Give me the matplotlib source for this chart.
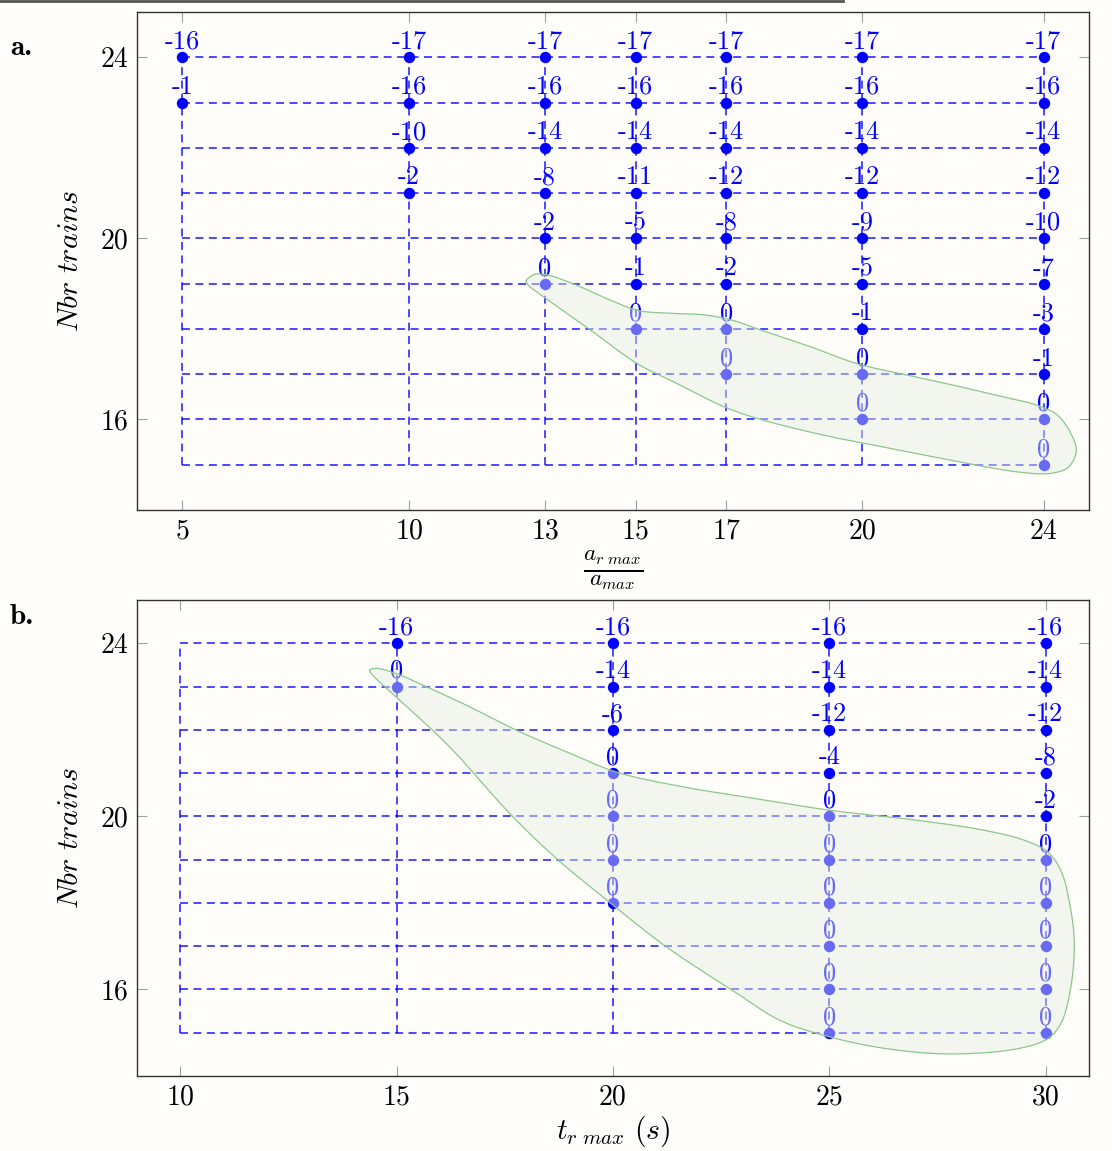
import numpy as np
import matplotlib
matplotlib.use("Agg")
import matplotlib.pyplot as plt
from matplotlib.lines import Line2D

plt.rcParams['font.family'] = ['cmr10', 'DejaVu Serif']
plt.rcParams['mathtext.fontset'] = 'cm'
plt.rcParams['axes.unicode_minus'] = False

# ---------------- data: panel a ----------------
a_xticks = [5, 10, 13, 15, 17, 20, 24]
a_yticks = [16, 20, 24]
a_levels = [15, 16, 17, 18, 19, 20, 21, 22, 23, 24]
a_ratio = [5, 5,
           10, 10, 10, 10,
           13, 13, 13, 13, 13, 13,
           15, 15, 15, 15, 15, 15, 15,
           17, 17, 17, 17, 17, 17, 17, 17,
           20, 20, 20, 20, 20, 20, 20, 20, 20,
           24, 24, 24, 24, 24, 24, 24, 24, 24, 24]
a_trains = [24, 23,
            24, 23, 22, 21,
            24, 23, 22, 21, 20, 19,
            24, 23, 22, 21, 20, 19, 18,
            24, 23, 22, 21, 20, 19, 18, 17,
            24, 23, 22, 21, 20, 19, 18, 17, 16,
            24, 23, 22, 21, 20, 19, 18, 17, 16, 15]
a_value = [-16, -1,
           -17, -16, -10, -2,
           -17, -16, -14, -8, -2, 0,
           -17, -16, -14, -11, -5, -1, 0,
           -17, -16, -14, -12, -8, -2, 0, 0,
           -17, -16, -14, -12, -9, -5, -1, 0, 0,
           -17, -16, -14, -12, -10, -7, -3, -1, 0, 0]
# outline of the highlighted (zero) region, panel a
a_region_x = [12.59, 12.76, 13.01, 13.64, 14.38, 15.04, 15.63, 16.51, 17.10, 17.69,
              18.79, 19.89, 20.90, 22.00, 23.10, 23.87, 24.31, 24.62, 24.72, 24.55,
              24.16, 23.43, 21.95, 20.63, 19.16, 17.69, 16.95, 15.92, 15.04, 14.01,
              12.98, 12.61]
a_region_y = [19.07, 19.20, 19.20, 18.99, 18.66, 18.41, 18.35, 18.31, 18.20, 18.00,
              17.63, 17.23, 17.00, 16.76, 16.50, 16.31, 16.09, 15.65, 15.30, 14.95,
              14.81, 14.84, 15.10, 15.36, 15.65, 16.02, 16.28, 16.79, 17.23, 17.97,
              18.70, 18.99]

# ---------------- data: panel b ----------------
b_xticks = [10, 15, 20, 25, 30]
b_yticks = [16, 20, 24]
b_levels = [15, 16, 17, 18, 19, 20, 21, 22, 23, 24]
b_time = [15, 15,
          20, 20, 20, 20, 20, 20, 20,
          25, 25, 25, 25, 25, 25, 25, 25, 25, 25,
          30, 30, 30, 30, 30, 30, 30, 30, 30, 30]
b_trains = [24, 23,
            24, 23, 22, 21, 20, 19, 18,
            24, 23, 22, 21, 20, 19, 18, 17, 16, 15,
            24, 23, 22, 21, 20, 19, 18, 17, 16, 15]
b_value = [-16, 0,
           -16, -14, -6, 0, 0, 0, 0,
           -16, -14, -12, -4, 0, 0, 0, 0, 0, 0,
           -16, -14, -12, -8, -2, 0, 0, 0, 0, 0]
b_region_x = [14.38, 14.53, 14.99, 15.61, 16.61, 17.77, 18.93, 20.09, 21.63, 23.17,
              25.02, 27.03, 28.57, 29.50, 30.04, 30.35, 30.58, 30.66, 30.58, 30.35,
              30.04, 29.35, 27.80, 26.33, 25.02, 23.87, 22.88, 21.24, 20.01, 18.70,
              17.62, 16.23, 14.99, 14.45]
b_region_y = [23.38, 23.42, 23.30, 23.03, 22.57, 21.99, 21.49, 21.02, 20.68, 20.43,
              20.14, 19.91, 19.68, 19.45, 19.18, 18.75, 17.83, 17.06, 16.05, 15.21,
              14.86, 14.63, 14.51, 14.63, 14.90, 15.28, 15.90, 16.98, 17.94, 19.02,
              20.06, 21.60, 22.76, 23.26]

# ---------------- style ----------------
BG = '#fefdf9'
BLUE = '#0000ff'
FS = 19        # point labels
TFS = 20       # tick labels
LFS = 21.5     # axis labels


def closed_curve(xs, ys, n=24, alpha=0.5):
    """Centripetal Catmull-Rom closed curve through the given outline points."""
    P = np.column_stack([xs, ys]).astype(float)
    N = len(P)
    pts = []
    for i in range(N):
        p0, p1, p2, p3 = P[(i - 1) % N], P[i], P[(i + 1) % N], P[(i + 2) % N]
        t0 = 0.0
        t1 = t0 + np.linalg.norm(p1 - p0) ** alpha
        t2 = t1 + np.linalg.norm(p2 - p1) ** alpha
        t3 = t2 + np.linalg.norm(p3 - p2) ** alpha
        t = np.linspace(t1, t2, n, endpoint=False)[:, None]
        A1 = (t1 - t) / (t1 - t0) * p0 + (t - t0) / (t1 - t0) * p1
        A2 = (t2 - t) / (t2 - t1) * p1 + (t - t1) / (t2 - t1) * p2
        A3 = (t3 - t) / (t3 - t2) * p2 + (t - t2) / (t3 - t2) * p3
        B1 = (t2 - t) / (t2 - t0) * A1 + (t - t0) / (t2 - t0) * A2
        B2 = (t3 - t) / (t3 - t1) * A2 + (t - t1) / (t3 - t1) * A3
        C = (t2 - t) / (t2 - t1) * B1 + (t - t1) / (t2 - t1) * B2
        pts.append(C)
    pts = np.vstack(pts)
    pts = np.vstack([pts, pts[:1]])
    return pts[:, 0], pts[:, 1]


def draw_panel(ax, xticks, yticks, levels, xs, ys, vals, rx, ry, xlim, ylim):
    ax.set_facecolor(BG)
    x0, x1 = xticks[0], xticks[-1]
    y0, y1 = levels[0], levels[-1]
    dash = dict(color=BLUE, lw=1.1, ls=(0, (5.2, 3.6)), alpha=0.9, zorder=2)
    for y in levels:
        ax.plot([x0, x1], [y, y], **dash)
    for x in xticks:
        ax.plot([x, x], [y0, y1], **dash)
    ax.plot(xs, ys, 'o', color=BLUE, ms=8.2, mec='none', zorder=3)
    for x, y, v in zip(xs, ys, vals):
        ax.annotate(str(v), (x, y), xytext=(0, 6.2), textcoords='offset points',
                    ha='center', va='baseline', color=BLUE, fontsize=FS, zorder=4)
    cx, cy = closed_curve(rx, ry)
    ax.fill(cx, cy, facecolor='#e6ede4', alpha=0.45, edgecolor='none', zorder=5)
    ax.plot(cx, cy, color='#8cc78c', lw=0.9, zorder=6)
    ax.set_xlim(*xlim)
    ax.set_ylim(*ylim)
    ax.set_xticks(xticks)
    ax.set_xticklabels([str(t) for t in xticks])
    ax.set_yticks(yticks)
    ax.set_yticklabels([str(t) for t in yticks])
    ax.tick_params(direction='in', length=7.5, width=0.8, color='#a0a0a0',
                   top=True, right=True, labelsize=TFS, pad=6)
    for s in ax.spines.values():
        s.set_color('#333333')
        s.set_linewidth(1.0)
    ax.set_ylabel(r'$Nbr\ trains$', fontsize=LFS, labelpad=12)


fig = plt.figure(figsize=(11.12, 11.51), dpi=100, facecolor=BG)
W, H = 1112.0, 1151.0
axa = fig.add_axes([137 / W, 1 - 510 / H, 952 / W, 498 / H])
axb = fig.add_axes([137 / W, 1 - 1076 / H, 952 / W, 476 / H])

draw_panel(axa, a_xticks, a_yticks, a_levels, a_ratio, a_trains, a_value,
           a_region_x, a_region_y, (4, 25), (14, 25))
draw_panel(axb, b_xticks, b_yticks, b_levels, b_time, b_trains, b_value,
           b_region_x, b_region_y, (9, 31), (14, 25))

axa.set_xlabel(r'$\frac{a_{r\ max}}{a_{max}}$', fontsize=24, labelpad=3)
axb.set_xlabel(r'$t_{r\ max}\ (s)$', fontsize=LFS, labelpad=2)

fig.text(10 / W, 1 - 55 / H, 'a.', fontfamily='cmb10', fontsize=21, va='baseline')
fig.text(10 / W, 1 - 624 / H, 'b.', fontfamily='cmb10', fontsize=21, va='baseline')

# remnant of the frame above the figure
fig.add_artist(Line2D([0, 843 / W], [1 - 1 / H, 1 - 1 / H], color='#555555', lw=2.0,
                      transform=fig.transFigure))

fig.savefig('out.png', dpi=100, facecolor=BG)
